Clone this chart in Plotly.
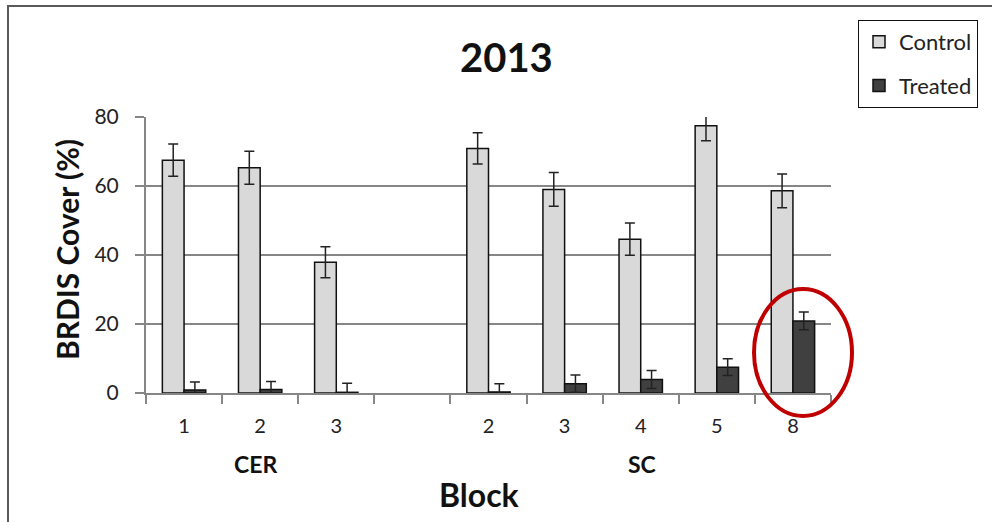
import plotly.graph_objects as go

# Block labels per site, with an empty slot separating the two sites
cer_blocks = ["1", "2", "3"]
sc_blocks = ["2", "3", "4", "5", "8"]
tick_labels = cer_blocks + [""] + sc_blocks
positions = list(range(len(tick_labels)))
bar_positions = [0, 1, 2, 4, 5, 6, 7, 8]

control_mean = [67.5, 65.3, 37.9, 70.9, 59.0, 44.6, 77.5, 58.6]
control_err = [4.7, 4.8, 4.5, 4.5, 4.9, 4.7, 4.4, 4.9]
treated_mean = [0.9, 1.0, 0.2, 0.3, 2.7, 3.9, 7.5, 20.9]
treated_err = [2.3, 2.3, 2.6, 2.4, 2.5, 2.6, 2.4, 2.6]

W, H = 992, 522
L, R, T, B = 146, 831, 117, 393  # plot area in pixels


def px(x):
    return (x - L) / (R - L)


def py(y):
    return (B - y) / (B - T)


FONT = "Lato, Arial, sans-serif"

fig = go.Figure()
fig.add_trace(go.Bar(
    x=bar_positions, y=control_mean, name="Control", legendgroup="c",
    marker=dict(color="#d9d9d9", line=dict(color="#111111", width=1.5)),
    error_y=dict(type="data", array=control_err, color="#222222", thickness=1.5, width=5),
))
fig.add_trace(go.Bar(
    x=bar_positions, y=treated_mean, name="Treated", legendgroup="t",
    marker=dict(color="#404040", line=dict(color="#111111", width=1.5)),
    error_y=dict(type="data", array=treated_err, color="#222222", thickness=1.5, width=5),
))

fig.update_layout(
    width=W, height=H,
    margin=dict(l=L, r=W - R, t=T, b=H - B),
    paper_bgcolor="white", plot_bgcolor="white",
    barmode="group", bargap=0.43, bargroupgap=0,
    font=dict(family=FONT, color="#222222"),
    showlegend=True,
    legend=dict(
        x=px(858), y=py(20), xanchor="left", yanchor="top",
        bgcolor="white", bordercolor="#111111", borderwidth=1,
        font=dict(size=22, color="#222222"), tracegroupgap=12,
        itemwidth=30,
    ),
    xaxis=dict(
        range=[-0.5, len(tick_labels) - 0.5],
        tickmode="array", tickvals=positions, ticktext=tick_labels,
        ticks="", showgrid=False, zeroline=False,
        showline=True, linecolor="#868686", linewidth=2,
        tickfont=dict(size=20, color="#222222"),
        ticklabelstandoff=14,
        minor=dict(tickmode="linear", tick0=-0.5, dtick=1, ticks="outside",
                   ticklen=9, tickwidth=1.5, tickcolor="#868686", showgrid=False),
    ),
    yaxis=dict(
        range=[0, 80], tickvals=[0, 20, 40, 60, 80],
        showgrid=True, gridcolor="#868686", gridwidth=1.5,
        zeroline=False, showline=True, linecolor="#868686", linewidth=2,
        ticks="outside", ticklen=9, tickwidth=1.5, tickcolor="#868686",
        tickfont=dict(size=21, color="#222222"),
        ticklabelstandoff=12,
    ),
)


def label(text, x, y, size, angle=0):
    fig.add_annotation(text=text, xref="paper", yref="paper", x=px(x), y=py(y),
                       xanchor="center", yanchor="middle", textangle=angle,
                       showarrow=False, font=dict(size=size, color="#111111"))


# Title, axis titles and site group labels
label("<b>2013</b>", 506, 57, 40)
label("<b>BRDIS Cover (%)</b>", 67, 250, 30, angle=-90)
label("<b>Block</b>", 479, 495, 32)
label("<b>CER</b>", 255, 464, 23)
label("<b>SC</b>", 642, 464, 23)

# Highlight ring around block 8
fig.add_shape(type="circle", xref="paper", yref="paper",
              x0=px(754), x1=px(852), y0=py(416), y1=py(289),
              line=dict(color="#c00000", width=4))

# Outer chart frame
fig.add_shape(type="rect", xref="paper", yref="paper",
              x0=px(8), x1=px(1010), y0=py(540), y1=py(6),
              line=dict(color="#5a5a5a", width=2))

fig.write_html("out.html")
